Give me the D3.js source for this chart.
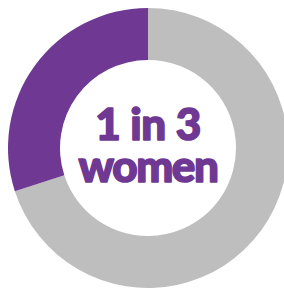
<!DOCTYPE html>
<html lang="en">
<head>
    <meta charset="UTF-8">
    <title>1 in 3 women</title>
    <script src="https://cdn.jsdelivr.net/npm/d3@7"></script>
    <style>
        body { margin: 0; background: #ffffff; }
        svg { display: block; }
    </style>
</head>
<body>

<script>

    // share of the ring (purple = the "1 in 3")
    var categories = ["rest", "women"];
    var values = [70, 30];
    var label_lines = ["1 in 3", "women"];

    var width = 284;
    var height = 289;

    var colors = d3.scaleOrdinal()
        .domain(categories)
        .range(["#bdbebd", "#6f3993"]);

    var graph = d3.select("body").append("svg")
        .attr("width", width)
        .attr("height", height)
        .attr("viewBox", [0, 0, width, height])

    var ring = graph.append("g")
        .attr("transform", "translate(148,148)")

    var pie = d3.pie()
        .sort(null)
        .value(function (d) { return d; });

    var arc = d3.arc()
        .innerRadius(88)
        .outerRadius(140);

    ring.selectAll("path")
        .data(pie(values))
        .join("path")
        .attr("fill", function (d, i) { return colors(categories[i]); })
        .attr("d", arc);

    // centre label as one text block, stroked a bit to get the heavy look
    var label = ring.append("text")
        .attr("text-anchor", "middle")
        .attr("font-family", "Lato, sans-serif")
        .attr("font-weight", 900)
        .attr("font-size", "44px")
        .attr("fill", "#6f3993")
        .attr("stroke", "#6f3993")
        .attr("stroke-width", 1.6)
        .attr("stroke-linejoin", "round")

    label.selectAll("tspan")
        .data(label_lines)
        .join("tspan")
        .attr("x", 0)
        .attr("y", function (d, i) { return i == 0 ? -8 : 34; })
        .attr("letter-spacing", function (d, i) { return i == 0 ? "-0.5px" : "-1.5px"; })
        .text(function (d) { return d; });

</script>

</body>
</html>
